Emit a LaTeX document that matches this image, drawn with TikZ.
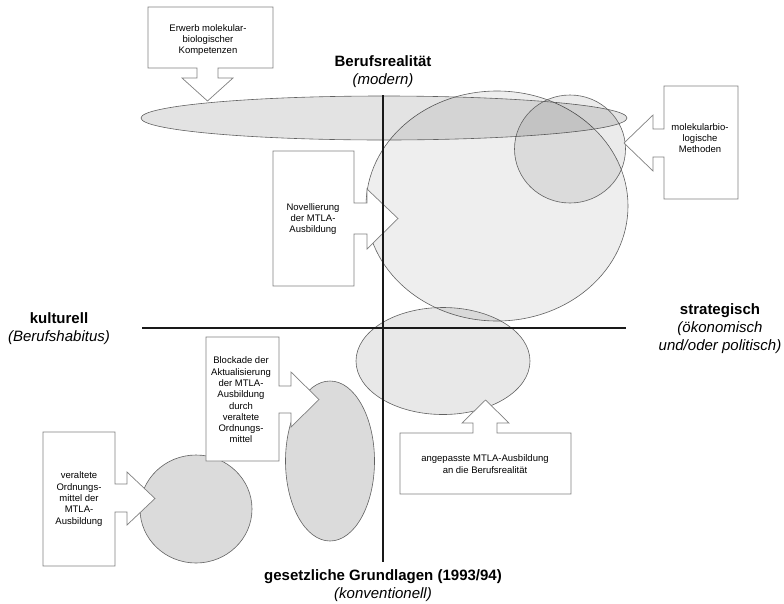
\documentclass[tikz,border=0pt]{standalone}
\usepackage{fontspec}
\setmainfont{Liberation Sans}
\usetikzlibrary{shapes.geometric}
\begin{document}
\begin{tikzpicture}[x=1pt,y=-1pt,
  blob/.style={ellipse, draw=black!62, line width=0.6pt, fill=black, inner sep=0pt},
  callout/.style={draw=black!50, line width=0.7pt, fill=white, line join=miter},
  small/.style={font=\fontsize{9.5}{11.3}\selectfont, align=center, inner sep=0pt},
  big/.style={font=\fontsize{15}{18}\selectfont, align=center, inner sep=0pt},
  axis/.style={line width=2.2pt, black!90}]
\useasboundingbox (0,0) rectangle (784,603);
% ellipses / circles
\node[blob, fill opacity=0.065, minimum width=262pt, minimum height=230pt] (bigc) at (497,206) {};
\node[blob, fill opacity=0.11, minimum width=486pt, minimum height=44pt] (bell) at (384,118) {};
\node[blob, fill opacity=0.08, minimum width=111pt, minimum height=108pt] (smc) at (570,149) {};
\node[blob, fill opacity=0.09, minimum width=174pt, minimum height=107pt] (lowe) at (443,361) {};
\node[blob, fill opacity=0.14, minimum width=89pt, minimum height=160pt] (tall) at (330,461) {};
\node[blob, fill opacity=0.14, minimum width=112pt, minimum height=108pt] (blc) at (196,509) {};
% callouts
\draw[callout] (148,7) -- (273,7) -- (273,68) -- (218,68) -- (218,78) -- (233,78) -- (207.5,101) -- (182,78) -- (197,78) -- (197,68) -- (148,68) -- cycle;
\node[small] (t1) at (208,40) {Erwerb molekular-\\biologischer\\Kompetenzen};
\draw[callout] (664,86) -- (738,86) -- (738,199) -- (664,199) -- (664,157) -- (653,157) -- (653,171) -- (624,143) -- (653,115) -- (653,129) -- (664,129) -- cycle;
\node[small] (t2) at (700,138) {molekularbio-\\logische\\Methoden};
\draw[callout] (273,151) -- (354,151) -- (354,203) -- (367,203) -- (367,189) -- (398,218.5) -- (367,249) -- (367,234) -- (354,234) -- (354,286) -- (273,286) -- cycle;
\node[small] (t3) at (313,219) {Novellierung\\der MTLA-\\Ausbildung};
\draw[callout] (206,337) -- (279,337) -- (279,386) -- (291,386) -- (291,372) -- (319,399.5) -- (291,427) -- (291,413) -- (279,413) -- (279,461) -- (206,461) -- cycle;
\node[small] (t4) at (241,400) {Blockade der\\Aktualisierung\\der MTLA-\\Ausbildung\\durch\\veraltete\\Ordnungs-\\mittel};
\draw[callout] (43,432) -- (115,432) -- (115,484) -- (127,484) -- (127,472) -- (155,498.5) -- (127,525) -- (127,512) -- (115,512) -- (115,566) -- (43,566) -- cycle;
\node[small] (t5) at (79,499) {veraltete\\Ordnungs-\\mittel der\\MTLA-\\Ausbildung};
\draw[callout] (400,433) -- (473,433) -- (473,423) -- (462,423) -- (485.5,400) -- (509,423) -- (497,423) -- (497,433) -- (571,433) -- (571,494) -- (400,494) -- cycle;
\node[small] (t6) at (485,464) {angepasste MTLA-Ausbildung\\an die Berufsrealität};
% axes
\coordinate (vtop) at (383,95);
\coordinate (vbot) at (383,562);
\coordinate (hl) at (142,328);
\coordinate (hr) at (626,328);
\draw[axis] (vtop) -- (vbot);
\draw[axis] (hl) -- (hr);
% labels
\node[big] (top) at (383,72) {\textbf{Berufsrealität}\\\textit{(modern)}};
\node[big] (left) at (59,329) {\textbf{kulturell}\\\textit{(Berufshabitus)}};
\node[big] (right) at (720,329) {\textbf{strategisch}\\\textit{(ökonomisch}\\\textit{und/oder politisch)}};
\node[big] (bottom) at (383,586) {\textbf{gesetzliche Grundlagen (1993/94)}\\\textit{(konventionell)}};
\end{tikzpicture}
\end{document}
